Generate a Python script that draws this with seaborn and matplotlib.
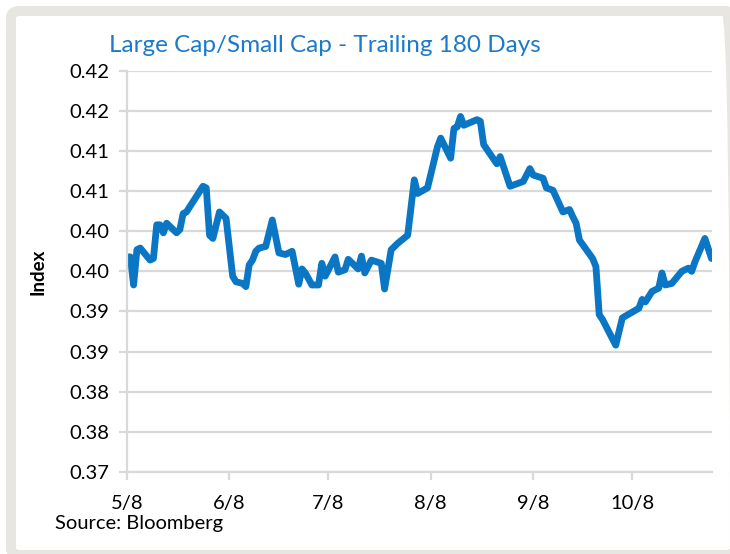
import matplotlib
matplotlib.use("Agg")
import matplotlib.pyplot as plt
from matplotlib.patches import FancyBboxPatch
import pandas as pd
import seaborn as sns

# Large cap / small cap ratio, trailing 180 days
dates = [
    "2017-05-08", "2017-05-09", "2017-05-10", "2017-05-11", "2017-05-12",
    "2017-05-15", "2017-05-16", "2017-05-17", "2017-05-18", "2017-05-19",
    "2017-05-20", "2017-05-23", "2017-05-24", "2017-05-25", "2017-05-26",
    "2017-05-31", "2017-06-01", "2017-06-02", "2017-06-03", "2017-06-05",
    "2017-06-07", "2017-06-09", "2017-06-10", "2017-06-12", "2017-06-13",
    "2017-06-14", "2017-06-15", "2017-06-16", "2017-06-17", "2017-06-19",
    "2017-06-21", "2017-06-23", "2017-06-25", "2017-06-27", "2017-06-29",
    "2017-06-30", "2017-07-01", "2017-07-03", "2017-07-05", "2017-07-06",
    "2017-07-07", "2017-07-08", "2017-07-10", "2017-07-11", "2017-07-13",
    "2017-07-14", "2017-07-17", "2017-07-18", "2017-07-19", "2017-07-21",
    "2017-07-24", "2017-07-25", "2017-07-27", "2017-07-29", "2017-08-01",
    "2017-08-03", "2017-08-04", "2017-08-07", "2017-08-10", "2017-08-11",
    "2017-08-14", "2017-08-15", "2017-08-16", "2017-08-17", "2017-08-18",
    "2017-08-22", "2017-08-23", "2017-08-24", "2017-08-28", "2017-08-29",
    "2017-09-01", "2017-09-05", "2017-09-07", "2017-09-08", "2017-09-11",
    "2017-09-12", "2017-09-14", "2017-09-17", "2017-09-19", "2017-09-20",
    "2017-09-21", "2017-09-22", "2017-09-26", "2017-09-27", "2017-09-28",
    "2017-09-29", "2017-10-03", "2017-10-05", "2017-10-10", "2017-10-11",
    "2017-10-12", "2017-10-14", "2017-10-16", "2017-10-17", "2017-10-18",
    "2017-10-20", "2017-10-23", "2017-10-25", "2017-10-26", "2017-10-27",
    "2017-10-30", "2017-11-01",
]
index_values = [
    0.3968, 0.3968, 0.3933, 0.3977, 0.3979, 0.3964, 0.3966, 0.4008, 0.4008, 0.3998,
    0.4010, 0.3998, 0.4002, 0.4022, 0.4024, 0.4056, 0.4054, 0.3995, 0.3991, 0.4024,
    0.4016, 0.3944, 0.3937, 0.3935, 0.3931, 0.3958, 0.3964, 0.3975, 0.3979, 0.3981,
    0.4014, 0.3973, 0.3971, 0.3975, 0.3934, 0.3953, 0.3948, 0.3933, 0.3933, 0.3960,
    0.3944, 0.3952, 0.3968, 0.3949, 0.3952, 0.3965, 0.3953, 0.3969, 0.3948, 0.3964,
    0.3960, 0.3928, 0.3977, 0.3985, 0.3995, 0.4064, 0.4047, 0.4054, 0.4105, 0.4116,
    0.4091, 0.4128, 0.4130, 0.4143, 0.4132, 0.4139, 0.4137, 0.4108, 0.4084, 0.4093,
    0.4056, 0.4062, 0.4078, 0.4070, 0.4066, 0.4054, 0.4051, 0.4024, 0.4027, 0.4018,
    0.4010, 0.3989, 0.3966, 0.3956, 0.3896, 0.3890, 0.3858, 0.3892, 0.3904, 0.3915,
    0.3912, 0.3925, 0.3929, 0.3948, 0.3933, 0.3935, 0.3950, 0.3954, 0.3950, 0.3962,
    0.3991, 0.3966,
]

x_tick_dates = ["2017-05-08", "2017-06-08", "2017-07-08", "2017-08-08",
                "2017-09-08", "2017-10-08"]
x_tick_labels = ["5/8", "6/8", "7/8", "8/8", "9/8", "10/8"]
y_ticks = [0.370, 0.375, 0.380, 0.385, 0.390, 0.395, 0.400, 0.405, 0.410, 0.415, 0.420]
y_tick_labels = ["0.37", "0.38", "0.38", "0.39", "0.39", "0.40",
                 "0.40", "0.41", "0.41", "0.42", "0.42"]

title_text = "Large Cap/Small Cap - Trailing 180 Days"
source_text = "Source: Bloomberg"

BLUE = "#0A76C4"
TITLE_BLUE = "#1B7ACB"
GRID = "#D9D9D9"
FRAME = "#E7E6E1"

sns.set_theme(style="white")
plt.rcParams["font.family"] = ["Lato", "DejaVu Sans"]

df = pd.DataFrame({"date": pd.to_datetime(dates), "index": index_values})

fig = plt.figure(figsize=(7.30, 5.54), dpi=100)
fig.patch.set_facecolor("white")
ax = fig.add_axes([127 / 730, 1 - 472 / 554, (711.5 - 127) / 730, (472 - 70.7) / 554])

sns.lineplot(data=df, x="date", y="index", ax=ax, color=BLUE, linewidth=4.9,
             solid_capstyle="round", solid_joinstyle="round")

ax.set_xlim(df["date"].iloc[0], df["date"].iloc[-1])
ax.set_ylim(y_ticks[0], y_ticks[-1])
ax.set_yticks(y_ticks)
ax.set_yticklabels(y_tick_labels)
ax.set_xticks(pd.to_datetime(x_tick_dates))
ax.set_xticklabels(x_tick_labels)

ax.yaxis.grid(True, color=GRID, linewidth=1.6)
ax.xaxis.grid(False)
ax.set_axisbelow(True)
for side in ("top", "right"):
    ax.spines[side].set_visible(False)
for side in ("left", "bottom"):
    ax.spines[side].set_color(GRID)
    ax.spines[side].set_linewidth(1.6)

ax.tick_params(axis="y", which="major", direction="out", length=5.5, width=1.6,
               color=GRID, pad=7, labelsize=14.5, labelcolor="black", left=True)
ax.tick_params(axis="x", which="major", direction="out", length=5.5, width=1.6,
               color=GRID, pad=11, labelsize=14.5, labelcolor="black", bottom=True)

ax.set_xlabel("")
ax.set_ylabel("Index", fontsize=13.5, fontweight="bold", color="black")
ax.yaxis.set_label_coords(-0.138, 0.5)

fig.text(109 / 730, 1 - 45 / 554, title_text, color=TITLE_BLUE, fontsize=17.5,
         ha="left", va="center")
fig.text(55 / 730, 1 - 524 / 554, source_text, color="black", fontsize=14.5,
         ha="left", va="center")

# light rounded panel border around the whole figure
frame = FancyBboxPatch((11 / 730, -1 / 554), 724 / 730, 544 / 554,
                       boxstyle="round,pad=0,rounding_size=0.012",
                       transform=fig.transFigure, fill=False, edgecolor=FRAME,
                       linewidth=7.2, clip_on=False)
fig.patches.append(frame)

fig.savefig("out.png", dpi=100, facecolor="white")
